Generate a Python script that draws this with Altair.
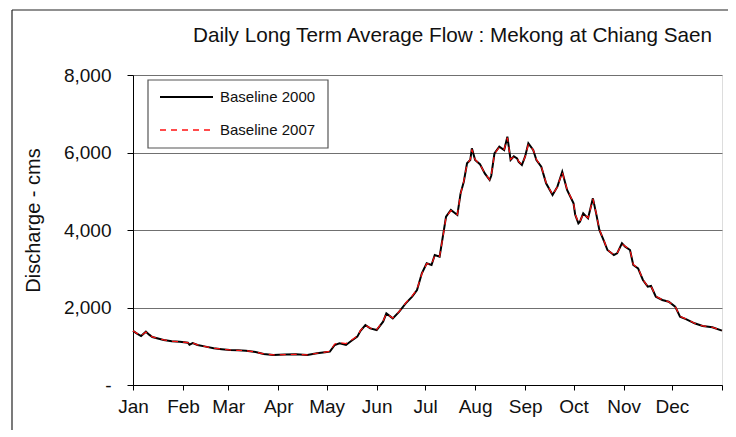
import altair as alt
import pandas as pd

title_text = "Daily Long Term Average Flow : Mekong at Chiang Saen"
y_title = "Discharge - cms"
series_names = ["Baseline 2000", "Baseline 2007"]
month_labels = ["Jan", "Feb", "Mar", "Apr", "May", "Jun", "Jul", "Aug", "Sep", "Oct", "Nov", "Dec", ""]
month_starts = [0, 31, 59, 90, 120, 151, 181, 212, 243, 273, 304, 334, 365]
y_ticks = [0, 2000, 4000, 6000, 8000]

days = [0, 2, 5, 8, 10, 12, 19, 24, 29, 34, 35, 37, 40, 45, 50, 55, 60, 65, 70, 76,
        81, 87, 94, 101, 108, 114, 119, 122, 125, 128, 132, 135, 139, 141, 144, 147, 151, 155, 157, 161,
        165, 169, 173, 176, 179, 182, 185, 187, 190, 192, 194, 197, 201, 203, 205, 207, 209, 210, 212, 215,
        218, 221, 222, 224, 227, 230, 232, 234, 236, 238, 239, 241, 243, 245, 248, 250, 253, 256, 260, 263,
        266, 269, 273, 274, 276, 277, 279, 282, 285, 287, 289, 292, 294, 298, 300, 303, 305, 308, 310, 313,
        316, 319, 321, 324, 328, 332, 336, 339, 343, 348, 353, 359, 365]

flow_2000 = [1400, 1340, 1264, 1376, 1300, 1237, 1161, 1130, 1118, 1092, 1040, 1080, 1032, 990, 946, 925, 903, 895, 886, 850,
             800, 774, 785, 791, 774, 817, 845, 860, 1032, 1075, 1032, 1130, 1247, 1400, 1548, 1462, 1419, 1634, 1849, 1720,
             1892, 2108, 2280, 2452, 2882, 3140, 3097, 3355, 3311, 3828, 4344, 4516, 4387, 4946, 5247, 5720, 5806, 6108, 5806, 5700,
             5462, 5290, 5400, 5979, 6150, 6064, 6408, 5806, 5900, 5849, 5760, 5677, 5900, 6237, 6064, 5806, 5634, 5204, 4903, 5118,
             5505, 5032, 4689, 4400, 4172, 4215, 4430, 4301, 4817, 4430, 4000, 3699, 3484, 3355, 3398, 3656, 3570, 3484, 3097, 3011,
             2710, 2537, 2555, 2280, 2194, 2150, 2021, 1763, 1695, 1592, 1523, 1489, 1402]

flow_2007 = [1400, 1345, 1270, 1370, 1305, 1240, 1165, 1130, 1115, 1095, 1050, 1085, 1035, 990, 950, 925, 905, 895, 886, 850,
             805, 776, 785, 790, 776, 820, 850, 870, 1060, 1090, 1070, 1150, 1260, 1410, 1540, 1470, 1430, 1650, 1840, 1730,
             1900, 2120, 2300, 2470, 2870, 3130, 3110, 3340, 3320, 3810, 4330, 4500, 4400, 4930, 5260, 5700, 5820, 6080, 5820, 5690,
             5470, 5300, 5420, 5960, 6140, 6080, 6380, 5820, 5890, 5860, 5770, 5690, 5890, 6210, 6070, 5820, 5640, 5220, 4910, 5110,
             5490, 5050, 4700, 4410, 4190, 4220, 4420, 4310, 4800, 4440, 4010, 3710, 3490, 3360, 3400, 3640, 3580, 3490, 3110, 3020,
             2720, 2545, 2550, 2290, 2200, 2150, 2025, 1770, 1700, 1595, 1525, 1490, 1405]

FONT = "Liberation Sans"
RED = "#ff1010"

df = pd.DataFrame({
    "day": days + days,
    "flow": flow_2000 + flow_2007,
    "series": [series_names[0]] * len(days) + [series_names[1]] * len(days),
})

label_expr = ("[" + ",".join(f"'{m}'" for m in month_labels) + "][indexof(["
              + ",".join(str(v) for v in month_starts) + "], datum.value)]")

x_enc = alt.X("day:Q",
              scale=alt.Scale(domain=[0, 365], nice=False, zero=False),
              axis=alt.Axis(values=month_starts, labelExpr=label_expr, title=None, grid=False,
                            labelFlush=False, labelOverlap=False,
                            domainColor="black", tickColor="black", tickSize=5,
                            labelFontSize=19, labelPadding=7, labelColor="#111", labelFont=FONT))
y_enc = alt.Y("flow:Q",
              scale=alt.Scale(domain=[0, 8000], nice=False),
              axis=alt.Axis(values=y_ticks,
                            labelExpr="datum.value == 0 ? '-\u00a0\u00a0' : format(datum.value, ',')",
                            title=y_title, titleFontSize=20, titleFontWeight="normal", titleFont=FONT,
                            titleColor="#111", titleX=-90, titleY=145,
                            grid=True, gridColor="#707070", gridWidth=1,
                            labelFlush=False,
                            domainColor="black", tickColor="black", tickSize=6,
                            labelFontSize=19, labelPadding=16, labelColor="#111", labelFont=FONT))

base = alt.Chart(df)
line2000 = base.transform_filter(alt.datum.series == series_names[0]).mark_line(
    color="black", strokeWidth=2).encode(x=x_enc, y=y_enc)
line2007 = base.transform_filter(alt.datum.series == series_names[1]).mark_line(
    color=RED, strokeWidth=1.2, strokeDash=[6, 5]).encode(x="day:Q", y="flow:Q")

one = pd.DataFrame({"t": [title_text], "a": [series_names[0]], "b": [series_names[1]]})
deco = alt.Chart(one)

title_mark = deco.mark_text(align="right", baseline="alphabetic", fontSize=20.7, font=FONT, color="#111").encode(
    text="t:N", x=alt.value(579), y=alt.value(-33))

frame_top = deco.mark_rule(color="#222", strokeWidth=1.2).encode(
    x=alt.value(-121), x2=alt.value(600), y=alt.value(-65))
frame_left = deco.mark_rule(color="#222", strokeWidth=1.2).encode(
    x=alt.value(-121), y=alt.value(-65), y2=alt.value(400))

legend_box = deco.mark_rect(fill="white", stroke="#555", strokeWidth=1.2).encode(
    x=alt.value(15), x2=alt.value(195), y=alt.value(5), y2=alt.value(73))
leg_line1 = deco.mark_rule(color="black", strokeWidth=2).encode(
    x=alt.value(27), x2=alt.value(80), y=alt.value(22))
leg_line2 = deco.mark_rule(color=RED, strokeWidth=1.3, strokeDash=[6, 5]).encode(
    x=alt.value(27), x2=alt.value(80), y=alt.value(55))
leg_text1 = deco.mark_text(align="left", baseline="middle", fontSize=15, font=FONT, color="#111").encode(
    text="a:N", x=alt.value(87), y=alt.value(22))
leg_text2 = deco.mark_text(align="left", baseline="middle", fontSize=15, font=FONT, color="#111").encode(
    text="b:N", x=alt.value(87), y=alt.value(55))

chart = alt.layer(
    line2000, line2007, legend_box, leg_line1, leg_line2, leg_text1, leg_text2,
    title_mark, frame_top, frame_left
).properties(
    width=589, height=310,
    autosize=alt.AutoSizeParams(type="none"),
    padding={"left": 125, "top": 67, "right": 6, "bottom": 45},
).configure_view(
    stroke="#808080", strokeWidth=1.5
).configure(font=FONT)

chart.save("out.html", embed_options={"renderer": "svg", "actions": False})
